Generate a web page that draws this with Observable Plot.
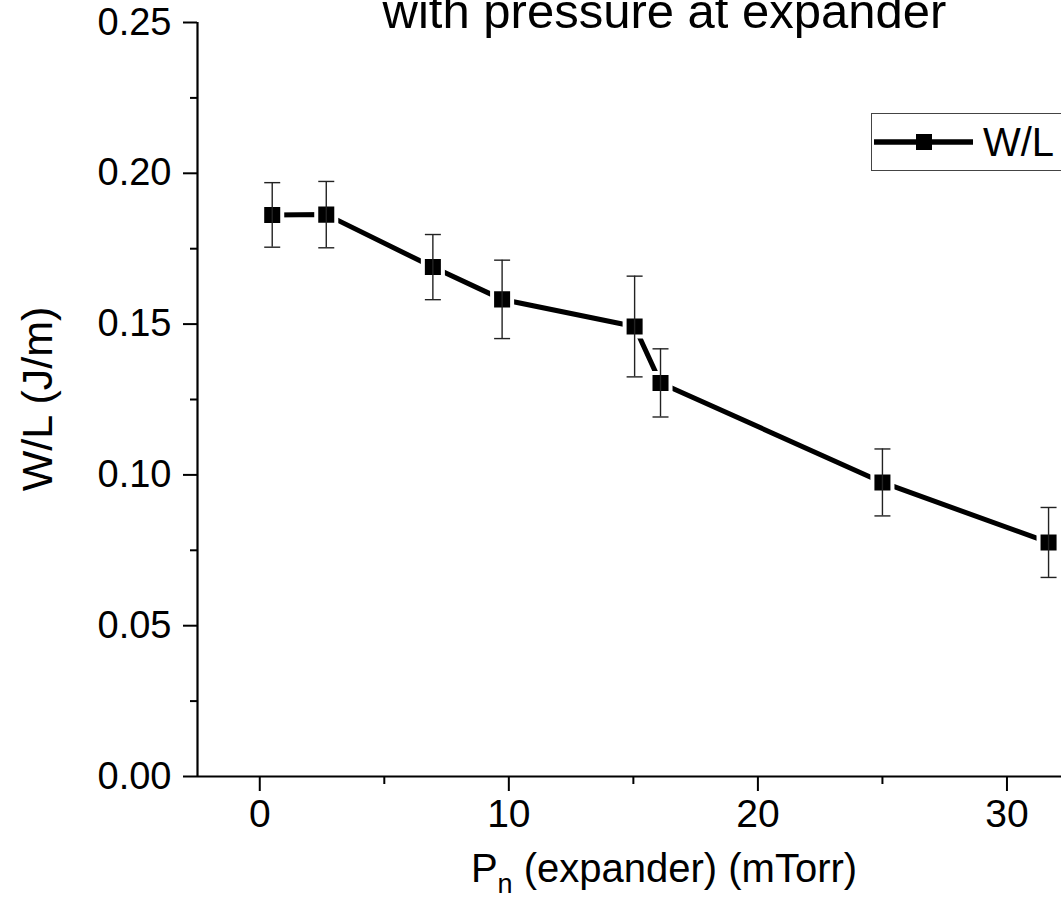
<!DOCTYPE html>
<html><head><meta charset="utf-8">
<script src="https://cdn.jsdelivr.net/npm/d3@7"></script>
<script src="https://cdn.jsdelivr.net/npm/@observablehq/plot@0.6"></script>
<style>
html,body{margin:0;padding:0;overflow:hidden;background:#fff;width:1061px;height:919px}
#wrap{position:relative;width:1061px;height:919px;overflow:hidden}
#wrap svg{max-width:none !important;display:block}
#legend{position:absolute;left:871px;top:113px;width:230px;height:56px;border:1.5px solid #444;background:#fff;font-family:"Liberation Sans",Arial,sans-serif;}
#legend span{position:absolute;left:111px;top:6px;font-size:40px;line-height:44px;color:#000}
</style></head><body><div id="wrap"><div id="legend"><svg width="110" height="56"><line x1="2" x2="101" y1="28" y2="28" stroke="#000" stroke-width="5.5"/><rect x="44" y="20" width="16" height="16" fill="#000"/></svg><span id="legtext"></span></div></div>
<script>
// data
const pressure = [0.5, 2.67, 6.95, 9.73, 15.05, 16.09, 25.0, 31.67];   // P_n (expander), mTorr
const wl       = [0.1862, 0.1863, 0.1689, 0.1582, 0.1492, 0.1305, 0.0975, 0.0776]; // W/L, J/m
const wlErr    = [0.0107, 0.0110, 0.0108, 0.0130, 0.0167, 0.0113, 0.0111, 0.0116];
const xTicks = [0, 10, 20, 30];
const xMinorTicks = [5, 15, 25];
const yTicks = [0, 0.05, 0.10, 0.15, 0.20, 0.25];
const yMinorTicks = [0.025, 0.075, 0.125, 0.175, 0.225];
const titleText = "with pressure at expander";
const seriesName = "W/L";
const yLabel = "W/L (J/m)";
const xLabelMain = "P";
const xLabelSub = "n";
const xLabelRest = " (expander) (mTorr)";

const data = pressure.map((p, i) => ({p, v: wl[i], lo: wl[i] - wlErr[i], hi: wl[i] + wlErr[i]}));
const cap = {draw(ctx, size) { const r = Math.sqrt(size / Math.PI); ctx.moveTo(-r, 0); ctx.lineTo(r, 0); }};
const font = '"Liberation Sans", Arial, sans-serif';

const chart = Plot.plot({
  width: 1131, height: 919,
  marginTop: 22, marginBottom: 143, marginLeft: 197, marginRight: 0,
  style: {fontFamily: font, fontSize: "38px", color: "#000", background: "transparent", overflow: "visible", maxWidth: "none"},
  x: {domain: [-2.5, 35]},
  y: {domain: [0, 0.25]},
  marks: [
    Plot.axisX(xTicks, {tickSize: 15, strokeWidth: 2, tickPadding: 8, fontSize: 39, label: null}),
    Plot.axisX(xMinorTicks, {tickSize: 8, strokeWidth: 2, tickFormat: () => "", label: null}),
    Plot.axisY(yTicks, {tickSize: 14, strokeWidth: 2, tickPadding: 12, fontSize: 38, tickFormat: d3.format(".2f"),
      label: null}),
    Plot.axisY(yMinorTicks, {tickSize: 7, strokeWidth: 2, tickFormat: () => "", label: null}),
    Plot.ruleY([0], {strokeWidth: 2.2}),
    Plot.ruleX([-2.5], {strokeWidth: 2.2}),
    Plot.line(data, {x: "p", y: "v", stroke: "#000", strokeWidth: 5}),
    Plot.dot(data, {x: "p", y: "v", symbol: "square", r: 11.3, fill: "#000", stroke: "#fff", strokeWidth: 4}),
    Plot.ruleX(data, {x: "p", y1: "lo", y2: "hi", stroke: "#222", strokeWidth: 1.4}),
    Plot.dot(data, {x: "p", y: "hi", symbol: cap, r: 8, stroke: "#222", strokeWidth: 1.4, fill: "none"}),
    Plot.dot(data, {x: "p", y: "lo", symbol: cap, r: 8, stroke: "#222", strokeWidth: 1.4, fill: "none"}),
    Plot.text([titleText], {text: d => d, frameAnchor: "top", lineAnchor: "bottom", dy: 5, fontSize: 49, fill: "#000"})
  ]
});

const svg = d3.select(chart);
const t = svg.append("text").attr("x", 664).attr("y", 882).attr("text-anchor", "middle")
  .style("font-size", "40px").style("font-family", font).attr("fill", "#000");
t.append("tspan").text(xLabelMain);
t.append("tspan").attr("dy", 11).style("font-size", "27px").text(xLabelSub);
t.append("tspan").attr("dy", -11).text(xLabelRest);

svg.append("text").attr("transform", "translate(52,399) rotate(-90)").attr("text-anchor", "middle")
  .style("font-size", "43px").style("font-family", font).attr("fill", "#000").text(yLabel);

document.getElementById("wrap").prepend(chart);
document.getElementById("legtext").textContent = seriesName;
</script>
</body></html>
